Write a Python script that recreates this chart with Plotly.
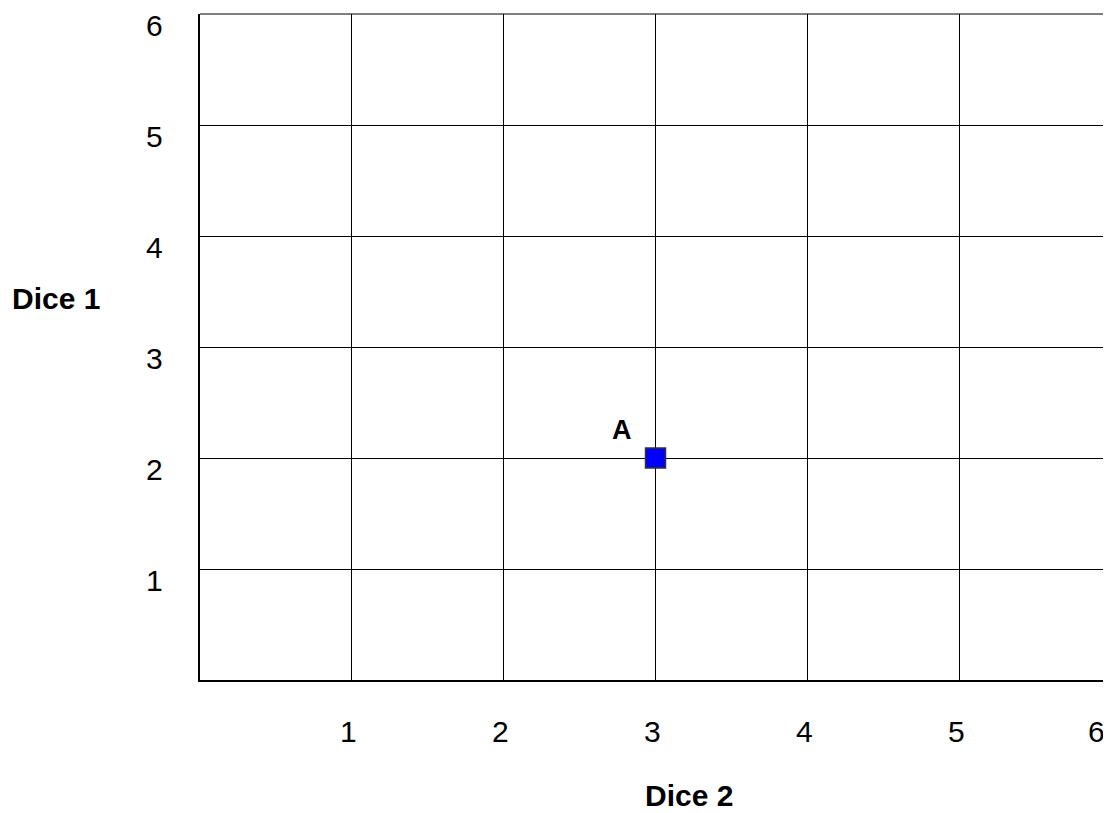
import plotly.graph_objects as go

# Data
point_names = ["A"]
dice2_values = [3]
dice1_values = [2]
tick_values = [1, 2, 3, 4, 5, 6]
tick_labels = ["1", "2", "3", "4", "5", "6"]

FONT = "Liberation Sans, Arial, sans-serif"

fig = go.Figure()
fig.add_trace(go.Scatter(
    x=dice2_values, y=dice1_values, mode="markers",
    marker=dict(symbol="square", size=20, color="#0000ff",
                line=dict(color="#333333", width=1.5)),
    hoverinfo="skip", showlegend=False, cliponaxis=False,
))

annotations = []
for name, xv, yv in zip(point_names, dice2_values, dice1_values):
    annotations.append(dict(x=xv, y=yv, xref="x", yref="y", text=f"<b>{name}</b>",
                            showarrow=False, xshift=-34, yshift=28,
                            font=dict(family=FONT, size=27, color="black")))

# x tick labels
for v, t in zip(tick_values, tick_labels):
    xs = -15 if v == 6 else -3
    annotations.append(dict(x=v, y=0, xref="x", yref="y", text=t, showarrow=False,
                            yshift=-51, xshift=xs,
                            font=dict(family=FONT, size=30, color="black")))
# y tick labels
for v, t in zip(tick_values, tick_labels):
    annotations.append(dict(x=0, y=v, xref="x", yref="y", text=t, showarrow=False,
                            xshift=-46, yshift=-11,
                            font=dict(family=FONT, size=30, color="black")))

# axis titles
annotations.append(dict(x=0, y=3.44, xref="x", yref="y", text="<b>Dice 1</b>",
                        showarrow=False, xshift=-144,
                        font=dict(family=FONT, size=30, color="black")))
annotations.append(dict(x=3.22, y=0, xref="x", yref="y", text="<b>Dice 2</b>",
                        showarrow=False, yshift=-115,
                        font=dict(family=FONT, size=30, color="black")))

fig.update_layout(
    width=1103, height=805,
    margin=dict(l=192, r=0, t=6, b=133),
    paper_bgcolor="white", plot_bgcolor="white",
    showlegend=False,
    annotations=annotations,
    shapes=[dict(type="line", xref="paper", yref="paper", x0=0, x1=1, y0=1, y1=1,
                 line=dict(color="black", width=1), layer="above")],
    xaxis=dict(range=[0, 6], tickvals=tick_values, showticklabels=False,
               showgrid=True, gridcolor="black", gridwidth=1,
               showline=True, linecolor="black", linewidth=2,
               zeroline=False, ticks="", fixedrange=True),
    yaxis=dict(range=[0, 6], tickvals=tick_values, showticklabels=False,
               showgrid=True, gridcolor="black", gridwidth=1,
               showline=True, linecolor="black", linewidth=2,
               zeroline=False, ticks="", fixedrange=True),
)

fig.write_html("out.html", config={"displayModeBar": False})
